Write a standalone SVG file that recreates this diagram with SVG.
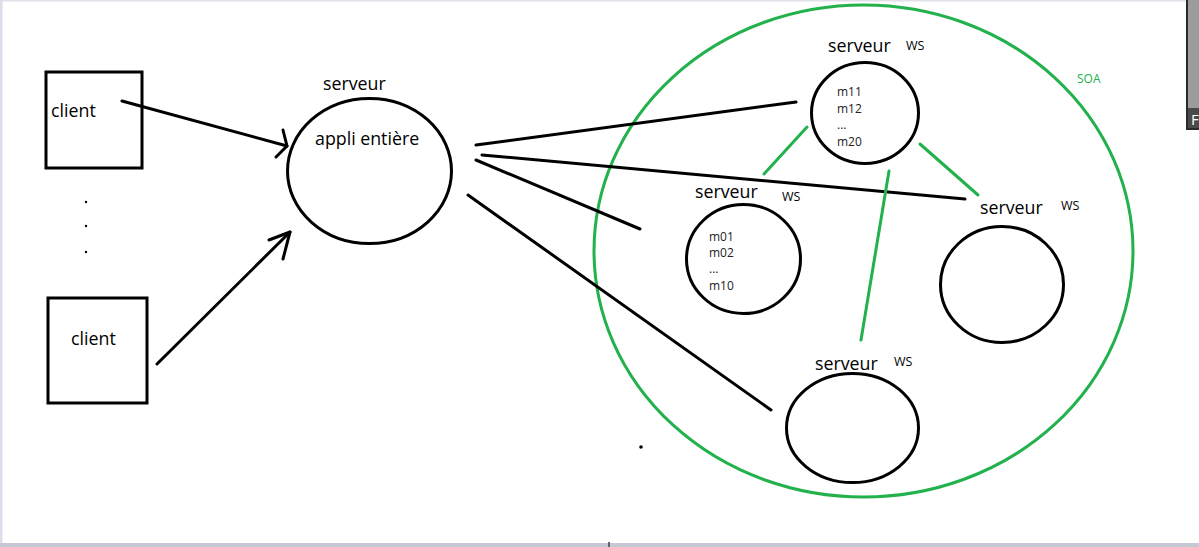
<svg xmlns="http://www.w3.org/2000/svg" width="1199" height="547" viewBox="0 0 1199 547">
<style>
.shape{fill:none;stroke:#000;stroke-width:3}
.bl{stroke:#000;stroke-width:3;fill:none;stroke-linecap:round;stroke-linejoin:round}
.gr{stroke:#22b14c;stroke-width:3;fill:none;stroke-linecap:round}
.t{font-family:"Open Sans","Liberation Sans",sans-serif;fill:#000}
.big{font-size:17.8px}
.m{font-size:12px;fill:#222}
.ws{font-size:12.5px}
</style>
<rect width="1199" height="547" fill="#fff"/>
<rect x="0" y="0" width="1199" height="1.5" fill="#dfe0ea"/>
<rect x="0" y="0" width="2.5" height="543" fill="#dcdde9"/>
<rect x="0" y="543" width="1199" height="4" fill="#c5c9d6"/>
<rect x="608" y="542" width="2" height="5" fill="#666"/>
<g id="thumb">
<rect x="1187" y="-2" width="14" height="131" fill="#9c9c9c" stroke="#2a2a2a" stroke-width="2"/>
<rect x="1188" y="108" width="12" height="20" fill="#4a4a4a"/>
<text x="1191" y="125" class="t" style="font-size:15px;fill:#fff">F</text>
</g>
<g id="soa">
<ellipse cx="863.5" cy="251" rx="269.5" ry="246" class="gr"/>
<text x="1077" y="83" class="t" style="font-size:12px;fill:#22b14c">SOA</text>
</g>
<g id="client1">
<rect x="46" y="72" width="96" height="96" class="shape"/>
<text x="51" y="117" class="t big">client</text>
</g>
<g id="client2">
<rect x="48" y="298" width="99" height="105" class="shape"/>
<text x="71" y="345" class="t big">client</text>
</g>
<g id="dots" fill="#000">
<circle cx="86" cy="202" r="1.2"/>
<circle cx="86" cy="226" r="1.2"/>
<circle cx="86" cy="252" r="1.2"/>
<circle cx="641" cy="447" r="1.8"/>
</g>
<g id="server-main">
<ellipse cx="369.5" cy="171" rx="82" ry="72.5" class="shape"/>
<text x="323" y="90" class="t big">serveur</text>
<text x="315" y="145" class="t big">appli entière</text>
</g>
<g id="ws-top">
<ellipse cx="865" cy="113" rx="53.5" ry="50.5" class="shape"/>
<text x="828" y="52" class="t big">serveur</text>
<text x="906" y="50" class="t ws">WS</text>
<text x="837" y="96" class="t m">m11</text>
<text x="837" y="113" class="t m">m12</text>
<text x="837" y="129" class="t m">...</text>
<text x="837" y="146" class="t m">m20</text>
</g>
<g id="ws-left">
<ellipse cx="743.5" cy="259" rx="57" ry="54.5" class="shape"/>
<text x="695" y="198" class="t big">serveur</text>
<text x="782" y="201" class="t ws">WS</text>
<text x="709" y="241" class="t m">m01</text>
<text x="709" y="257" class="t m">m02</text>
<text x="709" y="273" class="t m">...</text>
<text x="709" y="290" class="t m">m10</text>
</g>
<g id="ws-right">
<ellipse cx="1002" cy="284.5" rx="61.5" ry="58" class="shape"/>
<text x="980" y="214" class="t big">serveur</text>
<text x="1061" y="210" class="t ws">WS</text>
</g>
<g id="ws-bottom">
<ellipse cx="852.5" cy="428" rx="66" ry="54.5" class="shape"/>
<text x="815" y="370" class="t big">serveur</text>
<text x="894" y="366" class="t ws">WS</text>
</g>
<g id="connectors">
<line x1="122" y1="101" x2="287" y2="146" class="bl"/>
<polyline points="283,130 287,146 276,157" class="bl"/>
<line x1="157" y1="364" x2="290" y2="232" class="bl"/>
<polyline points="269,240 290,232 283,259" class="bl"/>
<line x1="476" y1="145" x2="796" y2="102" class="bl"/>
<line x1="482" y1="155" x2="965" y2="199" class="bl"/>
<line x1="476" y1="160" x2="640" y2="229" class="bl"/>
<line x1="468" y1="195" x2="771" y2="410" class="bl"/>
<line x1="807" y1="127" x2="764" y2="174" class="gr"/>
<line x1="920" y1="144" x2="978" y2="195" class="gr"/>
<line x1="889" y1="171" x2="861" y2="340" class="gr"/>
</g>
</svg>
